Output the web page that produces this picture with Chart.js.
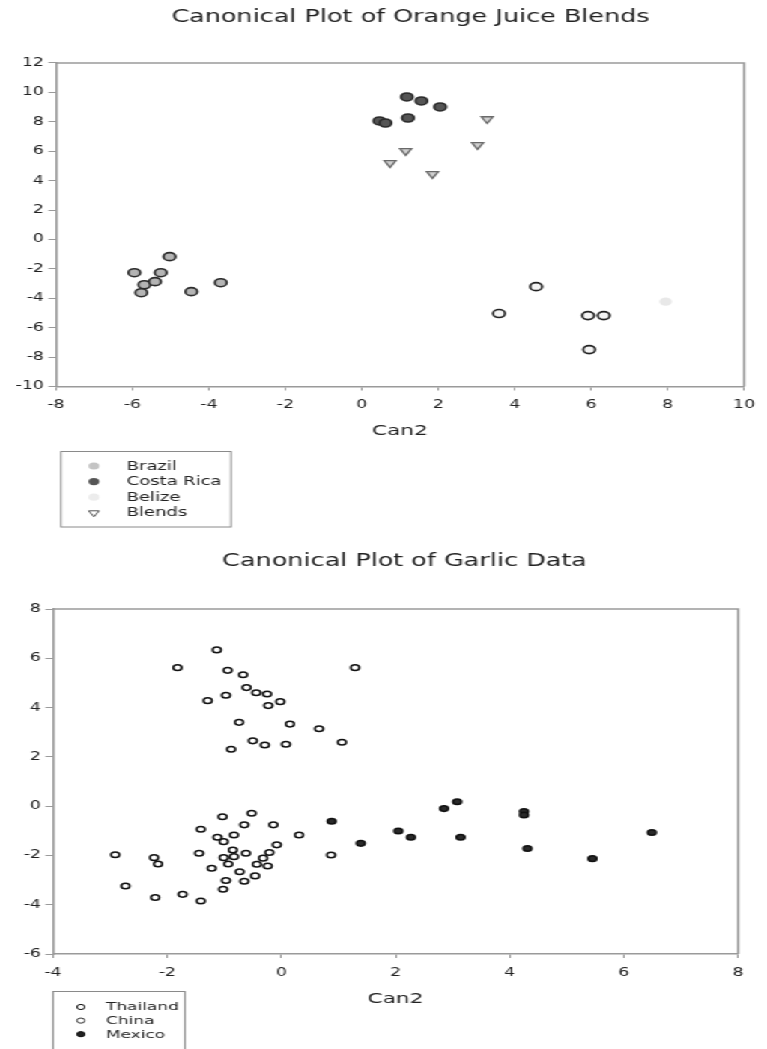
<!DOCTYPE html>
<html><head><meta charset="utf-8">
<script src="https://cdn.jsdelivr.net/npm/chart.js@4.4.1/dist/chart.umd.min.js"></script>
<style>
html,body{margin:0;padding:0;background:#fff;overflow:hidden;width:767px;height:1049px;}
#wrap{position:absolute;left:0;top:0;width:512px;height:1049px;transform:scaleX(1.498046875);transform-origin:0 0;}
#c1{position:absolute;left:0;top:0;}
#c2{position:absolute;left:0;top:540px;}
</style></head><body>
<div id="wrap"><canvas id="c1" width="512" height="540"></canvas><canvas id="c2" width="512" height="509"></canvas></div>
<script>
// ---------- Orange juice data ----------
const ojTitle = 'Canonical Plot of Orange Juice Blends';
const ojXLabel = 'Can2';
const ojXTicks = [-8, -6, -4, -2, 0, 2, 4, 6, 8, 10];
const ojYTicks = [-10, -8, -6, -4, -2, 0, 2, 4, 6, 8, 10, 12];
const brazilX = [-5.95, -5.69, -5.77, -5.41, -5.26, -5.03, -4.46, -3.69];
const brazilY = [-2.26, -3.08, -3.62, -2.87, -2.26, -1.17, -3.55, -2.94];
const costaRicaX = [0.46, 0.62, 1.18, 1.56, 2.05, 1.21];
const costaRicaY = [8.06, 7.92, 9.69, 9.42, 9.01, 8.26];
const belizeX = [4.56, 3.59, 5.92, 6.33, 5.95];
const belizeY = [-3.21, -5.04, -5.18, -5.18, -7.49];
const belizeExtraX = [7.95];
const belizeExtraY = [-4.23];
const blendsX = [0.74, 1.15, 1.85, 3.03, 3.28];
const blendsY = [5.21, 6.02, 4.46, 6.43, 8.19];
const ojLegend = ['Brazil', 'Costa Rica', 'Belize', 'Blends'];

// ---------- Garlic data ----------
const gTitle = 'Canonical Plot of Garlic Data';
const gXLabel = 'Can2';
const gXTicks = [-4, -2, 0, 2, 4, 6, 8];
const gYTicks = [-6, -4, -2, 0, 2, 4, 6, 8];
const thailandX = [-1.82, -1.13, -0.94, -0.67, 1.29, -0.61, -0.44, -0.25, -0.97, -1.29, -0.23, -0.02, -0.74, 0.15, 0.66, -0.50, -0.29, 0.08, 1.06, -0.88];
const thailandY = [5.62, 6.34, 5.51, 5.33, 5.62, 4.81, 4.60, 4.55, 4.50, 4.28, 4.08, 4.24, 3.40, 3.33, 3.14, 2.65, 2.48, 2.51, 2.59, 2.31];
const chinaX = [-2.91, -2.73, -2.23, -2.16, -2.21, -1.73, -1.41, -1.44, -1.41, -1.03, -0.52, -0.65, -0.14, -1.12, -1.01, -0.83, -0.85, -0.62, -1.01, -0.83, -0.93, -1.22, -0.73, -0.46, -0.97, -0.65, -1.02, -0.08, -0.21, -0.32, -0.43, -0.24, 0.31, 0.87];
const chinaY = [-1.97, -3.24, -2.09, -2.35, -3.71, -3.58, -3.85, -1.91, -0.94, -0.43, -0.29, -0.76, -0.76, -1.26, -1.44, -1.17, -1.78, -1.91, -2.09, -2.05, -2.35, -2.52, -2.66, -2.83, -3.02, -3.05, -3.37, -1.57, -1.88, -2.11, -2.36, -2.43, -1.17, -1.98];
const mexicoX = [0.88, 1.39, 2.05, 2.27, 2.85, 3.08, 3.14, 4.25, 4.25, 4.31, 5.45, 6.49];
const mexicoY = [-0.61, -1.51, -1.01, -1.26, -0.10, 0.18, -1.26, -0.22, -0.36, -1.72, -2.13, -1.07];
const gLegend = ['Thailand', 'China', 'Mexico'];

const FONT = "'DejaVu Sans', Verdana, sans-serif";
const TXT = '#222';
const AX = '#9a9a9a';

function pts(xs, ys) { return xs.map((x, i) => ({x: x, y: ys[i]})); }

const framePlugin = {
  id: 'frame',
  afterLayout(chart, args, o) {
    const shift = (o && o.titleShift) || 0;
    if (chart.titleBlock) { chart.titleBlock.left += shift; chart.titleBlock.right += shift; }
  },
  afterDraw(chart) {
    const a = chart.chartArea, ctx = chart.ctx;
    ctx.save();
    ctx.strokeStyle = AX; ctx.lineWidth = 1.5;
    ctx.beginPath();
    ctx.moveTo(a.left, a.top); ctx.lineTo(a.right, a.top); ctx.lineTo(a.right, a.bottom);
    ctx.stroke();
    ctx.restore();
  }
};

const boxLegendPlugin = {
  id: 'boxLegend',
  afterDraw(chart, args, o) {
    const ctx = chart.ctx;
    ctx.save();
    ctx.strokeStyle = '#8a8a8a'; ctx.lineWidth = 1;
    ctx.strokeRect(o.box[0], o.box[1], o.box[2], o.box[3]);
    ctx.font = o.fontSize + 'px ' + FONT;
    ctx.fillStyle = TXT; ctx.textBaseline = 'middle'; ctx.textAlign = 'left';
    o.items.forEach((it, i) => {
      const ds = chart.data.datasets[it.ds];
      const y = o.y0 + i * o.dy;
      ctx.fillStyle = it.fill; ctx.strokeStyle = it.stroke;
      Chart.helpers.drawPoint(ctx, {pointStyle: it.style || 'circle', rotation: it.rotation || 0, radius: it.r, borderWidth: it.bw}, o.symX, y);
      ctx.fillStyle = TXT;
      ctx.fillText(ds.label, o.textX, y + 0.5);
    });
    ctx.restore();
  }
};

function axis(min, max, ticks, opts) {
  return Object.assign({
    type: 'linear', min: min, max: max,
    afterBuildTicks: s => { s.ticks = ticks.map(v => ({value: v})); },
    border: {display: true, color: AX, width: 1.5},
    grid: {display: true, drawOnChartArea: false, drawTicks: true, color: AX, lineWidth: 1},
    ticks: {color: TXT, font: {family: FONT, size: 11.5}, autoSkip: false, maxRotation: 0}
  }, opts);
}

// ---------- Chart 1 ----------
new Chart(document.getElementById('c1'), {
  type: 'scatter',
  data: {
    datasets: [
      {label: ojLegend[0], data: pts(brazilX, brazilY), backgroundColor: '#b4b4b4', borderColor: '#2a2a2a', borderWidth: 1.6, pointRadius: 4},
      {label: ojLegend[1], data: pts(costaRicaX, costaRicaY), backgroundColor: '#555', borderColor: '#2a2a2a', borderWidth: 1.6, pointRadius: 4},
      {label: ojLegend[2], data: pts(belizeX, belizeY), backgroundColor: '#f4f4f4', borderColor: '#222', borderWidth: 1.6, pointRadius: 4},
      {label: ojLegend[2], data: pts(belizeExtraX, belizeExtraY), backgroundColor: '#e8e8e8', borderColor: '#e8e8e8', borderWidth: 0, pointRadius: 4.2},
      {label: ojLegend[3], data: pts(blendsX, blendsY), backgroundColor: '#cfcfcf', borderColor: '#6a6a6a', borderWidth: 1.3, pointRadius: 4.5, pointStyle: 'triangle', rotation: 180}
    ]
  },
  options: {
    responsive: false, animation: false, events: [],
    layout: {autoPadding: false, padding: {left: 0, right: 6, top: 0, bottom: 93.5}},
    scales: {
      x: axis(-8, 10, ojXTicks, {
        afterFit: s => { s.height = 60; },
        grid: {display: true, drawOnChartArea: false, drawTicks: true, color: AX, lineWidth: 1, tickLength: 4},
        ticks: {color: TXT, font: {family: FONT, size: 11.5}, autoSkip: false, maxRotation: 0, padding: 8},
        title: {display: true, text: ojXLabel, color: TXT, font: {family: FONT, size: 14.5}, padding: {top: 0, bottom: 7}}
      }),
      y: axis(-10, 12, ojYTicks, {
        afterFit: s => { s.width = 37.4; },
        grid: {display: true, drawOnChartArea: false, drawTicks: true, color: AX, lineWidth: 1, tickLength: 5},
        ticks: {color: TXT, font: {family: FONT, size: 11.5}, autoSkip: false, padding: 3}
      })
    },
    plugins: {
      legend: {display: false}, tooltip: {enabled: false},
      frame: {titleShift: 7},
      title: {display: true, fullSize: false, text: ojTitle, color: TXT, font: {family: FONT, size: 17, weight: 'normal'}, padding: {top: 7.8, bottom: 34.8}},
      boxLegend: {
        box: [40.7, 451.5, 113.5, 75.5], symX: 62.7, textX: 84.5, y0: 466, dy: 15.6, fontSize: 12,
        items: [
          {ds: 0, fill: '#c4c4c4', stroke: '#c4c4c4', r: 3.6, bw: 0},
          {ds: 1, fill: '#555', stroke: '#555', r: 3.6, bw: 0},
          {ds: 2, fill: '#ececec', stroke: '#ececec', r: 3.6, bw: 0},
          {ds: 4, fill: '#fff', stroke: '#555', r: 4, bw: 1.3, style: 'triangle', rotation: 180}
        ]
      }
    }
  },
  plugins: [framePlugin, boxLegendPlugin]
});

// ---------- Chart 2 ----------
new Chart(document.getElementById('c2'), {
  type: 'scatter',
  data: {
    datasets: [
      {label: gLegend[0], data: pts(thailandX, thailandY), backgroundColor: '#fff', borderColor: '#111', borderWidth: 1.5, pointRadius: 2.8},
      {label: gLegend[1], data: pts(chinaX, chinaY), backgroundColor: '#fff', borderColor: '#111', borderWidth: 1.5, pointRadius: 2.8},
      {label: gLegend[2], data: pts(mexicoX, mexicoY), backgroundColor: '#2a2a2a', borderColor: '#111', borderWidth: 1.5, pointRadius: 2.8}
    ]
  },
  options: {
    responsive: false, animation: false, events: [],
    layout: {autoPadding: false, padding: {left: 0, right: 19.3, top: 0, bottom: 35}},
    scales: {
      x: axis(-4, 8, gXTicks, {
        afterFit: s => { s.height = 60; },
        grid: {display: true, drawOnChartArea: false, drawTicks: true, color: AX, lineWidth: 1, tickLength: 4},
        ticks: {color: TXT, font: {family: FONT, size: 11.5}, autoSkip: false, maxRotation: 0, padding: 8},
        title: {display: true, text: gXLabel, color: TXT, font: {family: FONT, size: 14.5}, padding: {top: 0, bottom: 6}}
      }),
      y: axis(-6, 8, gYTicks, {
        afterFit: s => { s.width = 35.4; },
        grid: {display: true, drawOnChartArea: false, drawTicks: true, color: AX, lineWidth: 1, tickLength: 5},
        ticks: {color: TXT, font: {family: FONT, size: 11.5}, autoSkip: false, padding: 3}
      })
    },
    plugins: {
      legend: {display: false}, tooltip: {enabled: false},
      frame: {titleShift: 6},
      title: {display: true, fullSize: false, text: gTitle, color: TXT, font: {family: FONT, size: 17, weight: 'normal'}, padding: {top: 11.8, bottom: 36.8}},
      boxLegend: {
        box: [35.4, 451.5, 88, 70], symX: 54, textX: 70.8, y0: 467, dy: 13.6, fontSize: 11.3,
        items: [
          {ds: 0, fill: '#fff', stroke: '#111', r: 2.6, bw: 1.6},
          {ds: 1, fill: '#fff', stroke: '#333', r: 2.6, bw: 1.4},
          {ds: 2, fill: '#222', stroke: '#111', r: 2.6, bw: 1.6}
        ]
      }
    }
  },
  plugins: [framePlugin, boxLegendPlugin]
});
</script>
</body></html>
